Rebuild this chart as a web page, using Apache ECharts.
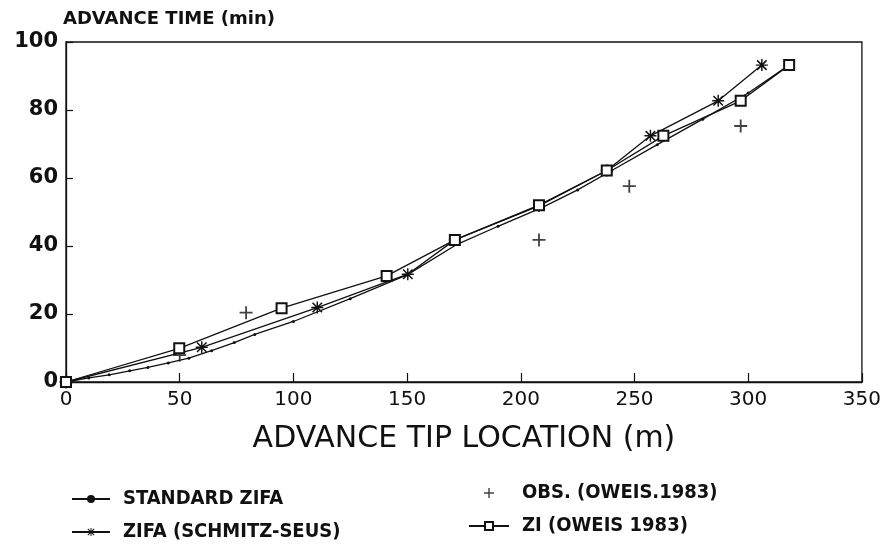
<!DOCTYPE html>
<html>
<head>
<meta charset="utf-8">
<script src="https://cdn.jsdelivr.net/npm/echarts@6/dist/echarts.min.js"></script>
<style>html,body{margin:0;padding:0;background:#fff}#c{width:884px;height:547px}</style>
</head>
<body>
<div id="c"></div>
<script>
// Data
const seriesNames = ['STANDARD ZIFA', 'ZIFA (SCHMITZ-SEUS)', 'OBS. (OWEIS.1983)', 'ZI (OWEIS 1983)'];
const xTicks = [0, 50, 100, 150, 200, 250, 300, 350];
const yTicks = [0, 20, 40, 60, 80, 100];

const stdX = [0, 10, 19, 28, 36, 45, 54, 64, 74, 83, 100, 125, 150, 172, 190, 210, 225, 240, 260, 280, 300, 318];
const stdY = [0, 1.2, 2.1, 3.3, 4.3, 5.6, 7.0, 9.2, 11.6, 14.0, 17.8, 24.5, 31.5, 40.5, 45.8, 51.5, 56.5, 62.2, 69.8, 77.3, 85.0, 93.2];

const zifaX = [0, 59.7, 110.5, 150.3, 171, 208, 237.8, 257, 286.8, 306];
const zifaY = [0, 10.2, 21.9, 31.7, 41.8, 51.8, 62.2, 72.4, 82.7, 93.2];

const obsX = [0, 50, 79.2, 208, 247.7, 296.7];
const obsY = [0, 7.9, 20.4, 41.8, 57.6, 75.3];

const ziX = [0, 49.8, 94.8, 141, 171, 208, 237.8, 262.7, 296.7, 318];
const ziY = [0, 9.9, 21.7, 31.2, 41.8, 52.0, 62.2, 72.4, 82.7, 93.2];

const pair = (xs, ys) => xs.map((x, i) => [x, ys[i]]);

const starPath = 'path://M4.4 0L5.6 0L5.6 10L4.4 10ZM0 4.4L10 4.4L10 5.6L0 5.6ZM0.6 1.5L1.5 0.6L9.4 8.5L8.5 9.4ZM8.5 0.6L9.4 1.5L1.5 9.4L0.6 8.5Z';
const plusPath = 'path://M4.3 0L5.7 0L5.7 10L4.3 10ZM0 4.3L10 4.3L10 5.7L0 5.7Z';

const FONT = 'DejaVu Sans';
const COND = '"DejaVu Sans Condensed", "DejaVu Sans", sans-serif';

const chart = echarts.init(document.getElementById('c'), null, {renderer: 'canvas'});
chart.setOption({
  backgroundColor: '#ffffff',
  animation: false,
  grid: {left: 66, right: 22, top: 42, bottom: 165, show: true, borderColor: '#111', borderWidth: 1.3, backgroundColor: 'transparent'},
  title: {
    text: 'ADVANCE TIME (min)', left: 58, top: 5,
    textStyle: {fontFamily: FONT, fontWeight: 'bold', fontSize: 18, color: '#111'}
  },
  legend: [
    {
      data: [seriesNames[0], seriesNames[1]], orient: 'vertical', left: 66, top: 484,
      itemGap: 13, itemWidth: 38, itemHeight: 10,
      textStyle: {fontFamily: COND, fontWeight: 'bold', fontSize: 20, color: '#111', padding: [0, 0, 0, 8]}
    },
    {
      data: [seriesNames[2], seriesNames[3]], orient: 'vertical', left: 463, top: 478,
      itemGap: 13, itemWidth: 40, itemHeight: 10,
      textStyle: {fontFamily: COND, fontWeight: 'bold', fontSize: 20, color: '#111', padding: [0, 0, 0, 8]}
    }
  ],
  xAxis: {
    type: 'value', min: xTicks[0], max: xTicks[xTicks.length - 1], interval: 50,
    name: 'ADVANCE TIP LOCATION (m)', nameLocation: 'middle', nameGap: 42,
    nameTextStyle: {fontFamily: FONT, fontSize: 30, color: '#111'},
    axisLine: {show: true, lineStyle: {color: '#111', width: 1.3}},
    axisTick: {show: true, inside: true, length: 9, lineStyle: {color: '#111', width: 1.2}},
    axisLabel: {fontFamily: FONT, fontSize: 20, color: '#111', margin: 8,
      formatter: v => xTicks.indexOf(v) >= 0 ? String(v) : ''},
    splitLine: {show: false}
  },
  yAxis: {
    type: 'value', min: yTicks[0], max: yTicks[yTicks.length - 1], interval: 20,
    axisLine: {show: true, lineStyle: {color: '#111', width: 1.3}},
    axisTick: {show: true, inside: true, length: 7, lineStyle: {color: '#111', width: 1.2}},
    axisLabel: {fontFamily: FONT, fontWeight: 'bold', fontSize: 21, color: '#111', margin: 8},
    splitLine: {show: false}
  },
  series: [
    {
      name: seriesNames[0], type: 'line', data: pair(stdX, stdY), smooth: false,
      symbol: 'circle', symbolSize: 3, showSymbol: true,
      lineStyle: {color: '#111', width: 1.3}, itemStyle: {color: '#111'}
    },
    {
      name: seriesNames[1], type: 'line', data: pair(zifaX, zifaY), smooth: false,
      symbol: starPath, symbolSize: 12,
      lineStyle: {color: '#111', width: 1.3}, itemStyle: {color: '#111'}
    },
    {
      name: seriesNames[2], type: 'scatter', data: pair(obsX, obsY),
      symbol: plusPath, symbolSize: 13, itemStyle: {color: '#111'}
    },
    {
      name: seriesNames[3], type: 'line', data: pair(ziX, ziY), smooth: false,
      symbol: 'emptyRect', symbolSize: 10,
      lineStyle: {color: '#111', width: 1.3}, itemStyle: {color: '#111', borderWidth: 1.2}
    }
  ]
});
</script>
</body>
</html>
